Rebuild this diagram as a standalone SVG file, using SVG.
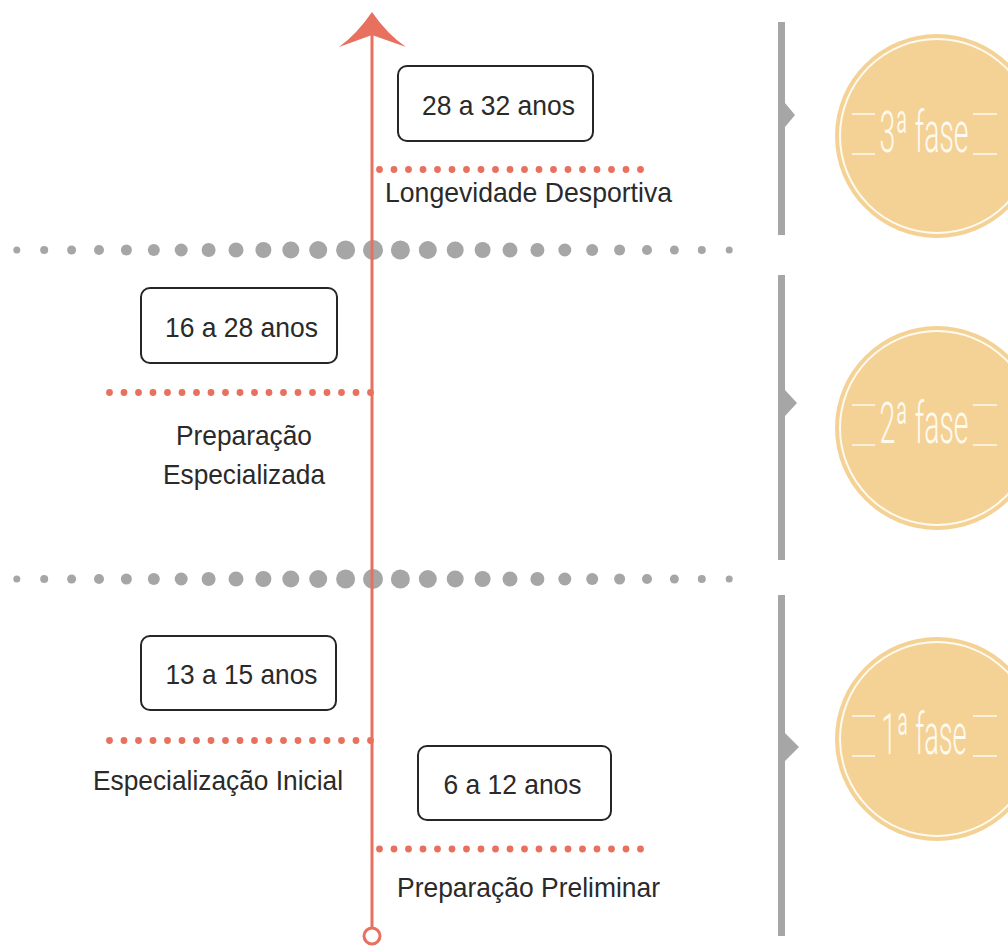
<svg xmlns="http://www.w3.org/2000/svg" width="1008" height="946" viewBox="0 0 1008 946">
<style>
.box{fill:#fff;stroke:#262626;stroke-width:2}
.bt{font-family:"Liberation Sans",Arial,sans-serif;font-size:28px;fill:#2a2a2a;text-anchor:middle}
.lb{font-family:"Liberation Sans",Arial,sans-serif;font-size:28px;fill:#2a2a2a}
.rdots{stroke:#e8705f;stroke-width:6.8;stroke-linecap:round;stroke-dasharray:0 14.5;fill:none}
.gdot{fill:#a6a6a6}
.bar{fill:#a6a6a6}
.circ{fill:#f4d296}
.ring{fill:none;stroke:#fffaf0;stroke-width:2}
.ft{font-family:Roboto,"Liberation Sans",sans-serif;font-weight:300;font-size:58px;fill:#fffaf0;text-anchor:middle}
.fl{stroke:#fffaf0;stroke-width:1.6;fill:none}
</style>
<rect width="1008" height="946" fill="#ffffff"/>
<g id="gray-rows">
<g id="row-top" class="gdot">
<circle cx="16.8" cy="250" r="3.5"/><circle cx="44.2" cy="250" r="4"/><circle cx="71.6" cy="250" r="4.5"/><circle cx="99" cy="250" r="5"/><circle cx="126.4" cy="250" r="5.5"/><circle cx="153.8" cy="250" r="6"/><circle cx="181.2" cy="250" r="6.5"/><circle cx="208.6" cy="250" r="7"/><circle cx="236" cy="250" r="7.5"/><circle cx="263.4" cy="250" r="8"/><circle cx="290.8" cy="250" r="8.5"/><circle cx="318.2" cy="250" r="9"/><circle cx="345.6" cy="250" r="9.5"/><circle cx="373" cy="250" r="10"/><circle cx="400.4" cy="250" r="9.5"/><circle cx="427.8" cy="250" r="9"/><circle cx="455.2" cy="250" r="8.5"/><circle cx="482.6" cy="250" r="8"/><circle cx="510" cy="250" r="7.5"/><circle cx="537.4" cy="250" r="7"/><circle cx="564.8" cy="250" r="6.5"/><circle cx="592.2" cy="250" r="6"/><circle cx="619.6" cy="250" r="5.5"/><circle cx="647" cy="250" r="5"/><circle cx="674.4" cy="250" r="4.5"/><circle cx="701.8" cy="250" r="4"/><circle cx="729.2" cy="250" r="3.5"/>
</g>
<g id="row-bottom" class="gdot">
<circle cx="16.8" cy="579" r="3.5"/><circle cx="44.2" cy="579" r="4"/><circle cx="71.6" cy="579" r="4.5"/><circle cx="99" cy="579" r="5"/><circle cx="126.4" cy="579" r="5.5"/><circle cx="153.8" cy="579" r="6"/><circle cx="181.2" cy="579" r="6.5"/><circle cx="208.6" cy="579" r="7"/><circle cx="236" cy="579" r="7.5"/><circle cx="263.4" cy="579" r="8"/><circle cx="290.8" cy="579" r="8.5"/><circle cx="318.2" cy="579" r="9"/><circle cx="345.6" cy="579" r="9.5"/><circle cx="373" cy="579" r="10"/><circle cx="400.4" cy="579" r="9.5"/><circle cx="427.8" cy="579" r="9"/><circle cx="455.2" cy="579" r="8.5"/><circle cx="482.6" cy="579" r="8"/><circle cx="510" cy="579" r="7.5"/><circle cx="537.4" cy="579" r="7"/><circle cx="564.8" cy="579" r="6.5"/><circle cx="592.2" cy="579" r="6"/><circle cx="619.6" cy="579" r="5.5"/><circle cx="647" cy="579" r="5"/><circle cx="674.4" cy="579" r="4.5"/><circle cx="701.8" cy="579" r="4"/><circle cx="729.2" cy="579" r="3.5"/>
</g>
</g>
<g id="connectors">
<line class="rdots" x1="379.5" y1="169.5" x2="641.5" y2="169.5"/>
<line class="rdots" x1="109.5" y1="392.5" x2="371.5" y2="392.5"/>
<line class="rdots" x1="109.5" y1="740.5" x2="371.5" y2="740.5"/>
<line class="rdots" x1="379.5" y1="849" x2="641.5" y2="849"/>
</g>
<g id="timeline">
<line x1="372" y1="30" x2="372" y2="927" stroke="#e8705f" stroke-width="3"/>
<path d="M372,12 Q357,34 339,47 L372,35 L406,47 Q387,34 372,12 Z" fill="#e8705f"/>
<circle cx="372" cy="936" r="8" fill="#fff" stroke="#e8705f" stroke-width="3"/>
</g>
<g id="node-28-32">
<rect class="box" x="398" y="66" width="195" height="75" rx="9"/>
<text class="bt" x="498.5" y="115" textLength="153" lengthAdjust="spacingAndGlyphs">28 a 32 anos</text>
<text class="lb" x="385" y="202" textLength="287" lengthAdjust="spacingAndGlyphs">Longevidade Desportiva</text>
</g>
<g id="node-16-28">
<rect class="box" x="141" y="288" width="196" height="75" rx="9"/>
<text class="bt" x="241.5" y="337" textLength="153" lengthAdjust="spacingAndGlyphs">16 a 28 anos</text>
<text class="bt" x="244" y="445" textLength="136" lengthAdjust="spacingAndGlyphs">Preparação</text>
<text class="bt" x="244" y="484" textLength="162" lengthAdjust="spacingAndGlyphs">Especializada</text>
</g>
<g id="node-13-15">
<rect class="box" x="141" y="636" width="195" height="74" rx="9"/>
<text class="bt" x="241.5" y="684" textLength="152" lengthAdjust="spacingAndGlyphs">13 a 15 anos</text>
<text class="lb" x="93" y="790" textLength="250" lengthAdjust="spacingAndGlyphs">Especialização Inicial</text>
</g>
<g id="node-6-12">
<rect class="box" x="418" y="746" width="193" height="74" rx="9"/>
<text class="bt" x="512.5" y="794" textLength="138" lengthAdjust="spacingAndGlyphs">6 a 12 anos</text>
<text class="lb" x="397" y="897" textLength="263" lengthAdjust="spacingAndGlyphs">Preparação Preliminar</text>
</g>
<g id="phase-3">
<path class="bar" d="M778,22 H785 V103 L795,115 L785,127 V235 H778 Z"/>
<circle class="circ" cx="937" cy="136" r="102"/>
<circle class="ring" cx="937" cy="136" r="97"/>
<path class="fl" d="M852,114 H875 M852,154 H875 M973,114 H997 M973,154 H997"/>
<text class="ft" transform="translate(924,152) scale(0.49,1)" x="0" y="0">3ª fase</text>
</g>
<g id="phase-2">
<path class="bar" d="M778,275 H785 V390 L797,403 L785,416 V560 H778 Z"/>
<circle class="circ" cx="937" cy="428" r="102"/>
<circle class="ring" cx="937" cy="428" r="97"/>
<path class="fl" d="M852,405 H875 M852,445 H875 M973,405 H997 M973,445 H997"/>
<text class="ft" transform="translate(924,443) scale(0.49,1)" x="0" y="0">2ª fase</text>
</g>
<g id="phase-1">
<path class="bar" d="M778,595 H785 V733 L799,747 L785,761 V936 H778 Z"/>
<circle class="circ" cx="937" cy="739" r="102"/>
<circle class="ring" cx="937" cy="739" r="97"/>
<path class="fl" d="M852,716 H875 M852,756 H875 M973,716 H997 M973,756 H997"/>
<text class="ft" transform="translate(924,754) scale(0.47,1)" x="0" y="0">1ª fase</text>
</g>
</svg>
